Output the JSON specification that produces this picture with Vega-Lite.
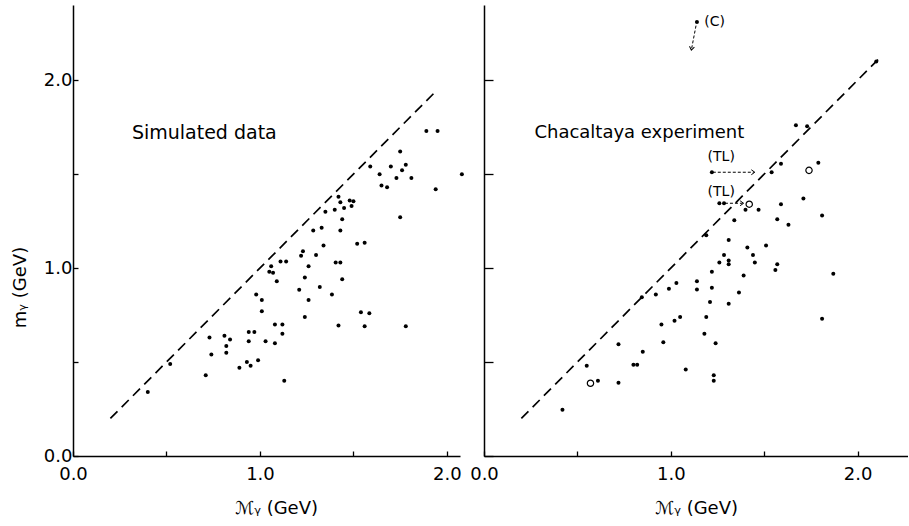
{
  "$schema": "https://vega.github.io/schema/vega-lite/v6.json",
  "padding": {"left": 11, "top": 5, "right": 0, "bottom": 0},
  "bounds": "flush",
  "spacing": 24,
  "background": "white",
  "config": {
    "view": {"stroke": null},
    "font": "DejaVu Sans",
    "axis": {
      "grid": false,
      "domainColor": "black",
      "domainWidth": 1.5,
      "tickColor": "black",
      "tickWidth": 1.3,
      "labelFont": "DejaVu Sans",
      "labelFontSize": 18,
      "labelColor": "black",
      "titleFont": "DejaVu Sans",
      "titleFontSize": 18,
      "titleFontWeight": "normal",
      "titleColor": "black"
    }
  },
  "datasets": {
    "sim": [
      {"x": 0.40, "y": 0.34}, {"x": 0.52, "y": 0.49}, {"x": 0.71, "y": 0.43}, {"x": 0.73, "y": 0.63},
      {"x": 0.74, "y": 0.54}, {"x": 0.81, "y": 0.64}, {"x": 0.84, "y": 0.62}, {"x": 0.82, "y": 0.585},
      {"x": 0.82, "y": 0.55}, {"x": 0.89, "y": 0.47}, {"x": 0.93, "y": 0.50}, {"x": 0.95, "y": 0.48},
      {"x": 0.99, "y": 0.51}, {"x": 0.94, "y": 0.66}, {"x": 0.97, "y": 0.66}, {"x": 0.94, "y": 0.61},
      {"x": 1.03, "y": 0.61}, {"x": 1.08, "y": 0.60}, {"x": 1.08, "y": 0.70}, {"x": 1.12, "y": 0.70},
      {"x": 1.12, "y": 0.65}, {"x": 1.13, "y": 0.40}, {"x": 0.98, "y": 0.86}, {"x": 1.01, "y": 0.83},
      {"x": 1.01, "y": 0.77}, {"x": 1.09, "y": 0.93}, {"x": 1.05, "y": 0.98}, {"x": 1.07, "y": 0.975},
      {"x": 1.06, "y": 1.01}, {"x": 1.11, "y": 1.035}, {"x": 1.14, "y": 1.035}, {"x": 1.21, "y": 0.885},
      {"x": 1.23, "y": 1.09}, {"x": 1.22, "y": 1.065}, {"x": 1.30, "y": 1.07}, {"x": 1.26, "y": 1.01},
      {"x": 1.405, "y": 1.03}, {"x": 1.43, "y": 1.03}, {"x": 1.24, "y": 0.95}, {"x": 1.44, "y": 0.94},
      {"x": 1.32, "y": 0.90}, {"x": 1.385, "y": 0.86}, {"x": 1.26, "y": 0.83}, {"x": 1.24, "y": 0.74},
      {"x": 1.42, "y": 0.695}, {"x": 1.54, "y": 0.765}, {"x": 1.585, "y": 0.76}, {"x": 1.56, "y": 0.69},
      {"x": 1.78, "y": 0.69}, {"x": 1.89, "y": 1.73}, {"x": 1.95, "y": 1.73}, {"x": 1.75, "y": 1.62},
      {"x": 1.78, "y": 1.55}, {"x": 1.70, "y": 1.54}, {"x": 1.76, "y": 1.52}, {"x": 1.59, "y": 1.54},
      {"x": 1.64, "y": 1.50}, {"x": 1.73, "y": 1.48}, {"x": 1.81, "y": 1.48}, {"x": 1.65, "y": 1.44},
      {"x": 1.68, "y": 1.43}, {"x": 2.08, "y": 1.50}, {"x": 1.94, "y": 1.42}, {"x": 1.75, "y": 1.27},
      {"x": 1.42, "y": 1.38}, {"x": 1.40, "y": 1.31}, {"x": 1.43, "y": 1.35}, {"x": 1.48, "y": 1.36},
      {"x": 1.50, "y": 1.355}, {"x": 1.45, "y": 1.32}, {"x": 1.49, "y": 1.33}, {"x": 1.44, "y": 1.26},
      {"x": 1.43, "y": 1.20}, {"x": 1.52, "y": 1.13}, {"x": 1.56, "y": 1.135}, {"x": 1.35, "y": 1.30},
      {"x": 1.33, "y": 1.215}, {"x": 1.285, "y": 1.20}, {"x": 1.34, "y": 1.12}
    ],
    "simLine": [{"x": 0.2, "y": 0.2}, {"x": 1.95, "y": 1.95}],
    "simText": [{"x": 0.315, "y": 1.72, "label": "Simulated data"}],
    "exp": [
      {"x": 0.42, "y": 0.246}, {"x": 0.61, "y": 0.40}, {"x": 0.72, "y": 0.39}, {"x": 0.55, "y": 0.48},
      {"x": 0.72, "y": 0.595}, {"x": 0.80, "y": 0.485}, {"x": 0.82, "y": 0.485}, {"x": 0.85, "y": 0.555},
      {"x": 1.08, "y": 0.46}, {"x": 0.96, "y": 0.605}, {"x": 0.95, "y": 0.70}, {"x": 1.02, "y": 0.72},
      {"x": 1.05, "y": 0.74}, {"x": 0.845, "y": 0.845}, {"x": 0.92, "y": 0.86}, {"x": 0.99, "y": 0.89},
      {"x": 1.03, "y": 0.92}, {"x": 1.23, "y": 0.43}, {"x": 1.23, "y": 0.40}, {"x": 1.18, "y": 0.65},
      {"x": 1.24, "y": 0.60}, {"x": 1.19, "y": 0.74}, {"x": 1.21, "y": 0.82}, {"x": 1.31, "y": 0.81},
      {"x": 1.14, "y": 0.886}, {"x": 1.22, "y": 0.895}, {"x": 1.14, "y": 0.93}, {"x": 1.365, "y": 0.87},
      {"x": 1.22, "y": 0.98}, {"x": 1.39, "y": 0.96}, {"x": 1.26, "y": 1.03}, {"x": 1.31, "y": 1.02},
      {"x": 1.45, "y": 1.03}, {"x": 1.56, "y": 0.99}, {"x": 1.57, "y": 1.02}, {"x": 1.87, "y": 0.97},
      {"x": 1.81, "y": 0.73}, {"x": 2.10, "y": 2.10}, {"x": 1.67, "y": 1.76}, {"x": 1.73, "y": 1.755},
      {"x": 1.59, "y": 1.555}, {"x": 1.54, "y": 1.51}, {"x": 1.79, "y": 1.56}, {"x": 1.40, "y": 1.31},
      {"x": 1.47, "y": 1.31}, {"x": 1.59, "y": 1.34}, {"x": 1.71, "y": 1.37}, {"x": 1.57, "y": 1.26},
      {"x": 1.63, "y": 1.23}, {"x": 1.81, "y": 1.28}, {"x": 1.41, "y": 1.11}, {"x": 1.51, "y": 1.12},
      {"x": 1.44, "y": 1.07}, {"x": 1.34, "y": 1.255}, {"x": 1.19, "y": 1.175}, {"x": 1.31, "y": 1.15},
      {"x": 1.285, "y": 1.07}, {"x": 1.31, "y": 1.04}, {"x": 1.22, "y": 1.51}, {"x": 1.26, "y": 1.345},
      {"x": 1.285, "y": 1.345}, {"x": 1.14, "y": 2.31}
    ],
    "expOpen": [{"x": 0.57, "y": 0.387}, {"x": 1.74, "y": 1.52}, {"x": 1.42, "y": 1.34}],
    "expLine": [{"x": 0.2, "y": 0.2}, {"x": 2.12, "y": 2.12}],
    "expArrows": [
      {"x": 1.225, "y": 1.51, "x2": 1.445, "y2": 1.51},
      {"x": 1.29, "y": 1.345, "x2": 1.385, "y2": 1.345},
      {"x": 1.135, "y": 2.29, "x2": 1.112, "y2": 2.17}
    ],
    "expHeads": [
      {"x": 1.45, "y": 1.51, "arrow": "TL"},
      {"x": 1.39, "y": 1.345, "arrow": "TL"},
      {"x": 1.11, "y": 2.16, "arrow": "C"}
    ],
    "expText": [
      {"x": 0.27, "y": 1.72, "label": "Chacaltaya experiment", "kind": "title"},
      {"x": 1.27, "y": 1.59, "label": "(TL)", "kind": "note"},
      {"x": 1.27, "y": 1.405, "label": "(TL)", "kind": "note"},
      {"x": 1.235, "y": 2.31, "label": "(C)", "kind": "note"}
    ]
  },
  "hconcat": [
    {
      "width": 387,
      "height": 451,
      "encoding": {
        "x": {
          "field": "x", "type": "quantitative",
          "scale": {"domain": [0, 2.07], "nice": false, "zero": false},
          "axis": {
            "values": [0, 0.5, 1, 1.5, 2],
            "labelExpr": "datum.value % 1 == 0 ? format(datum.value, '.1f') : ''",
            "tickSize": -5,
            "labelPadding": 14,
            "labelFlush": false,
            "title": "ℳᵧ (GeV)",
            "titleY": 52,
            "titleX": 203,
            "titleBaseline": "middle"
          }
        },
        "y": {
          "field": "y", "type": "quantitative",
          "scale": {"domain": [0, 2.4], "nice": false, "zero": false},
          "axis": {
            "values": [0, 0.5, 1, 1.5, 2],
            "labelExpr": "datum.value % 1 == 0 ? format(datum.value, '.1f') : ''",
            "tickSize": -5,
            "labelPadding": 6,
            "labelFlush": false,
            "title": "mᵧ (GeV)",
            "titleX": -53,
            "titleY": 282,
            "titleAngle": 270,
            "titleAlign": "center",
            "titleBaseline": "middle"
          }
        }
      },
      "layer": [
        {
          "data": {"name": "simLine"},
          "mark": {"type": "line", "color": "black", "strokeWidth": 1.7, "strokeDash": [10, 6]}
        },
        {
          "data": {"name": "sim"},
          "mark": {"type": "point", "filled": true, "shape": "circle", "size": 16, "color": "black", "opacity": 1}
        },
        {
          "data": {"name": "simText"},
          "mark": {"type": "text", "align": "left", "baseline": "middle", "fontSize": 19, "color": "black", "font": "DejaVu Sans"},
          "encoding": {"text": {"field": "label"}}
        }
      ]
    },
    {
      "width": 424,
      "height": 451,
      "encoding": {
        "x": {
          "field": "x", "type": "quantitative",
          "scale": {"domain": [0, 2.27], "nice": false, "zero": false},
          "axis": {
            "values": [0, 0.5, 1, 1.5, 2],
            "labelExpr": "datum.value % 1 == 0 ? format(datum.value, '.1f') : ''",
            "tickSize": -5,
            "labelPadding": 14,
            "labelFlush": false,
            "title": "ℳᵧ (GeV)",
            "titleY": 52,
            "titleBaseline": "middle"
          }
        },
        "y": {
          "field": "y", "type": "quantitative",
          "scale": {"domain": [0, 2.4], "nice": false, "zero": false},
          "axis": {
            "values": [0, 0.5, 1, 1.5, 2],
            "labels": false,
            "tickSize": -9,
            "title": null
          }
        }
      },
      "layer": [
        {
          "data": {"name": "expLine"},
          "mark": {"type": "line", "color": "black", "strokeWidth": 1.7, "strokeDash": [10, 6]}
        },
        {
          "data": {"name": "expArrows"},
          "mark": {"type": "rule", "color": "black", "strokeWidth": 1, "strokeDash": [3, 2]},
          "encoding": {"x2": {"field": "x2"}, "y2": {"field": "y2"}}
        },
        {
          "data": {"name": "expHeads"},
          "transform": [{"filter": "datum.arrow == 'TL'"}],
          "mark": {"type": "point", "shape": "M-1,-0.7L0,0L-1,0.7", "filled": false, "size": 50, "color": "black", "strokeWidth": 1, "angle": 0, "opacity": 1}
        },
        {
          "data": {"name": "expHeads"},
          "transform": [{"filter": "datum.arrow == 'C'"}],
          "mark": {"type": "point", "shape": "M-1,-0.7L0,0L-1,0.7", "filled": false, "size": 50, "color": "black", "strokeWidth": 1, "angle": 100, "opacity": 1}
        },
        {
          "data": {"name": "exp"},
          "mark": {"type": "point", "filled": true, "shape": "circle", "size": 16, "color": "black", "opacity": 1}
        },
        {
          "data": {"name": "expOpen"},
          "mark": {"type": "point", "filled": false, "shape": "circle", "size": 40, "color": "black", "strokeWidth": 1.2, "opacity": 1}
        },
        {
          "data": {"name": "expText"},
          "transform": [{"filter": "datum.kind == 'title'"}],
          "mark": {"type": "text", "align": "left", "baseline": "middle", "fontSize": 18, "color": "black", "font": "DejaVu Sans"},
          "encoding": {"text": {"field": "label"}}
        },
        {
          "data": {"name": "expText"},
          "transform": [{"filter": "datum.kind == 'note'"}],
          "mark": {"type": "text", "align": "center", "baseline": "middle", "fontSize": 14, "color": "black", "font": "DejaVu Sans"},
          "encoding": {"text": {"field": "label"}}
        }
      ]
    }
  ]
}
